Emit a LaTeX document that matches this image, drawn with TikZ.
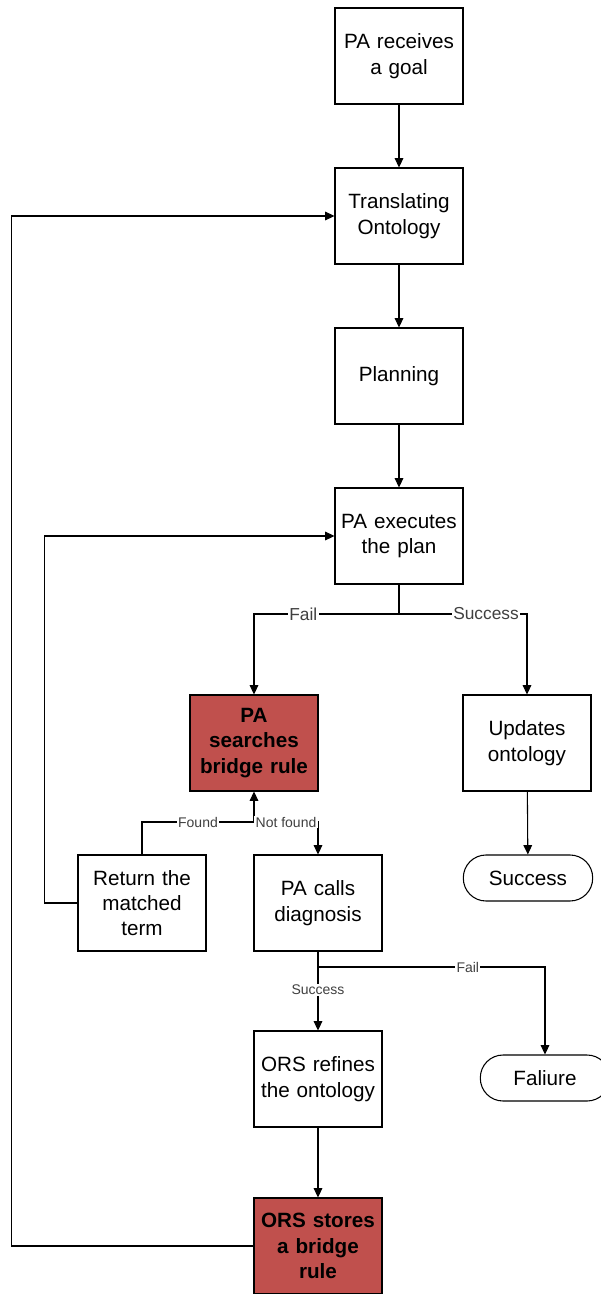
\documentclass[tikz,border=0pt]{standalone}
\usepackage{fontspec}
\setmainfont{Liberation Sans}
\usetikzlibrary{arrows.meta,positioning}
\definecolor{brick}{HTML}{C0504D}
\definecolor{lblgray}{HTML}{404040}

\begin{document}
\begin{tikzpicture}[
  x=0.75pt, y=-0.75pt,
  box/.style={draw=black, line width=0.8pt, minimum width=96pt, minimum height=72pt,
              text width=90pt, inner sep=2pt, align=center,
              font=\fontsize{15.5}{19}\selectfont},
  hot/.style={box, fill=brick, font=\fontsize{15.5}{19}\selectfont\bfseries},
  term/.style={draw=black, line width=0.8pt, rounded corners=17pt, minimum width=97pt,
               minimum height=34.5pt, align=center, font=\fontsize{15.5}{19}\selectfont},
  flow/.style={line width=0.8pt, -{Triangle[length=7pt, width=6.5pt]}},
  lbl/.style={fill=white, inner sep=1pt, text=lblgray, font=\fontsize{13}{15}\selectfont},
  slbl/.style={lbl, font=\fontsize{10.5}{12}\selectfont},
]
  \useasboundingbox (0,0) rectangle (600,1294);
  % main column
  \node[box] (goal) at (399,56) {PA receives\\a goal};
  \node[box] (trans) at (399,216) {Translating\\Ontology};
  \node[box] (plan) at (399,376) {Planning};
  \node[box] (exec) at (399,536) {PA executes\\the plan};
  % outcome of the plan
  \node[hot] (search) at (254,743) {PA\\searches\\bridge rule};
  \node[box] (update) at (527,743) {Updates\\ontology};
  \node[term] (done) at (528,878) {Success};
  % bridge rule lookup
  \node[box] (ret) at (142,903) {Return the\\matched\\term};
  \node[box] (diag) at (318,903) {PA calls\\diagnosis};
  \node[box] (refine) at (318,1079) {ORS refines\\the ontology};
  \node[term] (fail) at (545,1078) {Faliure};
  \node[hot] (store) at (318,1246) {ORS stores\\a bridge\\rule};

  \coordinate (split) at (399,614);
  \coordinate (fork) at (254,822);
  \coordinate (dsplit) at (318,967);

  \draw[flow] (goal) -- (trans);
  \draw[flow] (trans) -- (plan);
  \draw[flow] (plan) -- (exec);
  \draw[flow] (exec.south) -- (split) -| node[lbl, pos=0.33] {Fail} (search.north);
  \draw[flow] (split) -| node[lbl, pos=0.34] {Success} (update.north);
  \draw[flow] (update) -- (done);
  \draw[flow] (ret.north) |- node[slbl, pos=0.75] {Found} (fork) -- (search.south);
  \draw[flow] (fork) -| node[slbl, pos=0.25] {Not found} (diag.north);
  \draw[flow] (ret.west) -- ++(-33,0) |- (exec.west);
  \draw[flow] (diag.south) -- (dsplit) -| node[slbl, pos=0.33] {Fail} (fail.north);
  \draw[flow] (dsplit) -- node[slbl, pos=0.36] {Success} (refine.north);
  \draw[flow] (refine) -- (store);
  % loop back to the translation step
  \draw[flow] (store.west) -- ++(-242,0) |- (trans.west);
\end{tikzpicture}
\end{document}
